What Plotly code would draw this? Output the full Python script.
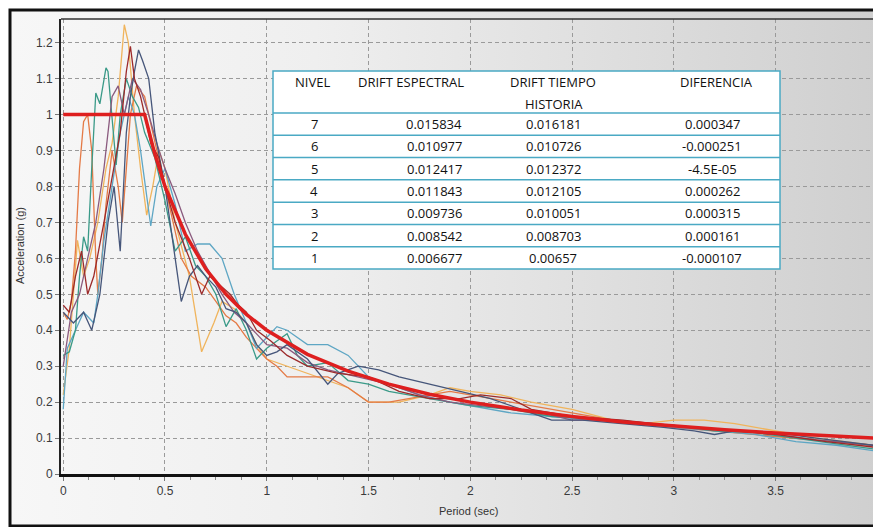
import base64
import plotly.graph_objects as go

# ---------------- data ----------------
t_teal = [0, 0.03, 0.06, 0.08, 0.10, 0.12, 0.14, 0.16, 0.18, 0.21, 0.22, 0.24, 0.26, 0.28, 0.31, 0.34, 0.37, 0.40, 0.45, 0.50, 0.55, 0.60, 0.65, 0.70, 0.75, 0.80, 0.85, 0.90, 0.95, 1.00, 1.05, 1.10, 1.15, 1.20, 1.30, 1.40, 1.50, 1.60, 1.80, 2.00, 2.20, 2.40, 2.60, 2.80, 3.00, 3.20, 3.40, 3.60, 3.80, 3.98]
s_teal = [0.33, 0.34, 0.40, 0.55, 0.66, 0.62, 0.85, 1.06, 1.03, 1.13, 1.12, 0.98, 0.86, 1.00, 1.10, 1.05, 1.02, 0.95, 0.88, 0.76, 0.62, 0.66, 0.58, 0.55, 0.50, 0.41, 0.46, 0.40, 0.32, 0.35, 0.37, 0.39, 0.33, 0.30, 0.31, 0.26, 0.25, 0.23, 0.21, 0.19, 0.18, 0.16, 0.155, 0.14, 0.135, 0.12, 0.115, 0.10, 0.085, 0.07]

t_orange = [0, 0.02, 0.04, 0.06, 0.08, 0.10, 0.12, 0.14, 0.16, 0.17, 0.19, 0.21, 0.24, 0.27, 0.29, 0.31, 0.33, 0.36, 0.40, 0.44, 0.48, 0.53, 0.58, 0.63, 0.70, 0.75, 0.80, 0.85, 0.90, 0.95, 1.00, 1.05, 1.10, 1.20, 1.30, 1.40, 1.50, 1.60, 1.70, 1.80, 1.90, 2.00, 2.20, 2.40, 2.60, 2.80, 3.00, 3.20, 3.40, 3.60, 3.80, 3.98]
s_orange = [0.45, 0.43, 0.48, 0.62, 0.85, 0.98, 1.00, 0.90, 0.60, 0.50, 0.60, 0.75, 0.90, 0.80, 0.70, 0.85, 1.00, 1.08, 1.05, 0.95, 0.85, 0.72, 0.60, 0.55, 0.52, 0.48, 0.44, 0.42, 0.38, 0.35, 0.32, 0.30, 0.27, 0.27, 0.27, 0.24, 0.20, 0.20, 0.21, 0.22, 0.23, 0.22, 0.20, 0.18, 0.16, 0.14, 0.13, 0.12, 0.11, 0.10, 0.09, 0.08]

t_navy = [0, 0.05, 0.10, 0.14, 0.18, 0.22, 0.25, 0.28, 0.31, 0.33, 0.35, 0.37, 0.39, 0.42, 0.45, 0.50, 0.55, 0.58, 0.62, 0.66, 0.70, 0.75, 0.80, 0.85, 0.90, 0.95, 1.00, 1.05, 1.10, 1.20, 1.30, 1.35, 1.45, 1.55, 1.65, 1.80, 1.95, 2.10, 2.25, 2.40, 2.55, 2.75, 2.95, 3.10, 3.20, 3.30, 3.50, 3.70, 3.98]
s_navy = [0.45, 0.42, 0.45, 0.40, 0.50, 0.70, 0.80, 0.62, 0.95, 1.05, 1.12, 1.18, 1.15, 1.10, 0.95, 0.80, 0.60, 0.48, 0.55, 0.58, 0.55, 0.52, 0.46, 0.45, 0.42, 0.36, 0.33, 0.34, 0.36, 0.32, 0.25, 0.28, 0.30, 0.29, 0.27, 0.25, 0.23, 0.21, 0.18, 0.15, 0.15, 0.14, 0.13, 0.12, 0.11, 0.12, 0.115, 0.10, 0.08]

t_maroon = [0, 0.03, 0.06, 0.09, 0.12, 0.15, 0.20, 0.25, 0.28, 0.31, 0.33, 0.35, 0.38, 0.40, 0.43, 0.47, 0.50, 0.55, 0.62, 0.68, 0.72, 0.78, 0.82, 0.86, 0.90, 0.95, 1.02, 1.10, 1.20, 1.35, 1.50, 1.65, 1.80, 1.95, 2.05, 2.20, 2.30, 2.50, 2.75, 2.90, 3.10, 3.30, 3.50, 3.75, 3.98]
s_maroon = [0.47, 0.45, 0.55, 0.62, 0.50, 0.55, 0.70, 0.85, 0.95, 1.12, 1.19, 1.10, 1.05, 1.00, 0.92, 0.88, 0.80, 0.70, 0.60, 0.50, 0.55, 0.52, 0.50, 0.47, 0.45, 0.40, 0.37, 0.33, 0.30, 0.28, 0.27, 0.23, 0.21, 0.21, 0.22, 0.21, 0.18, 0.16, 0.15, 0.14, 0.13, 0.12, 0.11, 0.09, 0.075]

t_gold = [0, 0.03, 0.05, 0.07, 0.10, 0.13, 0.17, 0.21, 0.24, 0.27, 0.30, 0.32, 0.35, 0.38, 0.41, 0.44, 0.47, 0.50, 0.55, 0.62, 0.68, 0.74, 0.78, 0.84, 0.90, 0.95, 1.00, 1.10, 1.20, 1.30, 1.40, 1.50, 1.65, 1.80, 1.90, 2.00, 2.15, 2.30, 2.50, 2.70, 2.85, 3.00, 3.15, 3.30, 3.50, 3.70, 3.98]
s_gold = [0.22, 0.35, 0.50, 0.65, 0.55, 0.60, 0.70, 0.85, 0.92, 1.05, 1.25, 1.20, 1.00, 0.85, 0.72, 0.80, 0.90, 0.85, 0.70, 0.55, 0.34, 0.42, 0.48, 0.46, 0.42, 0.36, 0.32, 0.30, 0.28, 0.26, 0.24, 0.20, 0.20, 0.22, 0.24, 0.23, 0.22, 0.20, 0.18, 0.15, 0.14, 0.15, 0.15, 0.14, 0.12, 0.10, 0.08]

t_blue = [0, 0.02, 0.06, 0.10, 0.15, 0.17, 0.20, 0.24, 0.28, 0.32, 0.35, 0.38, 0.43, 0.46, 0.50, 0.55, 0.60, 0.66, 0.72, 0.78, 0.84, 0.90, 0.95, 1.00, 1.05, 1.10, 1.20, 1.30, 1.40, 1.50, 1.60, 1.75, 1.90, 2.00, 2.20, 2.40, 2.60, 2.80, 3.00, 3.20, 3.40, 3.60, 3.80, 3.98]
s_blue = [0.18, 0.35, 0.40, 0.45, 0.42, 0.50, 0.65, 0.80, 0.95, 1.05, 1.00, 0.90, 0.69, 0.80, 0.85, 0.75, 0.62, 0.64, 0.64, 0.60, 0.50, 0.42, 0.35, 0.38, 0.41, 0.40, 0.36, 0.36, 0.33, 0.27, 0.25, 0.22, 0.20, 0.19, 0.17, 0.16, 0.15, 0.14, 0.13, 0.12, 0.11, 0.09, 0.08, 0.065]

t_purple = [0, 0.04, 0.08, 0.12, 0.16, 0.20, 0.24, 0.27, 0.30, 0.34, 0.38, 0.42, 0.46, 0.50, 0.55, 0.60, 0.66, 0.72, 0.78, 0.84, 0.90, 0.95, 1.00, 1.10, 1.20, 1.30, 1.45, 1.60, 1.75, 1.90, 2.05, 2.20, 2.35, 2.50, 2.70, 2.90, 3.10, 3.30, 3.50, 3.70, 3.98]
s_purple = [0.30, 0.45, 0.50, 0.60, 0.70, 0.85, 1.05, 1.08, 1.00, 1.10, 1.07, 1.00, 0.92, 0.85, 0.78, 0.70, 0.62, 0.56, 0.50, 0.45, 0.42, 0.39, 0.36, 0.35, 0.31, 0.29, 0.27, 0.25, 0.22, 0.20, 0.19, 0.18, 0.17, 0.15, 0.15, 0.14, 0.13, 0.12, 0.11, 0.095, 0.08]

t_design = [0, 0.40, 0.45, 0.50, 0.60, 0.70, 0.80, 0.90, 1.00, 1.20, 1.40, 1.60, 1.80, 2.00, 2.25, 2.50, 2.75, 3.00, 3.25, 3.50, 3.75, 3.98]
s_design = [1.00, 1.00, 0.89, 0.80, 0.667, 0.571, 0.50, 0.444, 0.40, 0.333, 0.286, 0.25, 0.222, 0.20, 0.178, 0.16, 0.145, 0.133, 0.123, 0.114, 0.107, 0.10]

# table
nivel = ["7", "6", "5", "4", "3", "2", "1"]
drift_espectral = ["0.015834", "0.010977", "0.012417", "0.011843", "0.009736", "0.008542", "0.006677"]
drift_tiempo = ["0.016181", "0.010726", "0.012372", "0.012105", "0.010051", "0.008703", "0.00657"]
diferencia = ["0.000347", "-0.000251", "-4.5E-05", "0.000262", "0.000315", "0.000161", "-0.000107"]

# ---------------- figure ----------------
W, H = 873, 527
ML, MR, MT, MB = 61, 0, 19, 53
PW, PH = W - ML - MR, H - MT - MB


def xp(px):
    return (px - ML) / PW


def yp(py):
    return (H - MB - py) / PH


fig = go.Figure()

series = [
    (t_gold, s_gold, "#f0b45c"),
    (t_orange, s_orange, "#e47a46"),
    (t_blue, s_blue, "#5ea6c4"),
    (t_teal, s_teal, "#3a9a88"),
    (t_purple, s_purple, "#8a5a7e"),
    (t_navy, s_navy, "#46567a"),
    (t_maroon, s_maroon, "#9c2a2a"),
]
for tx, sy, col in series:
    fig.add_trace(go.Scatter(x=tx, y=sy, mode="lines", line=dict(color=col, width=1.3),
                             hoverinfo="skip", showlegend=False))

fig.add_trace(go.Scatter(x=t_design, y=s_design, mode="lines",
                         line=dict(color="#de1f1f", width=3.5), showlegend=False))

svg = ("<svg xmlns='http://www.w3.org/2000/svg' width='100' height='100' viewBox='0 0 100 100' "
       "preserveAspectRatio='none'><defs><linearGradient id='g' x1='0' y1='0' x2='1' y2='0'>"
       "<stop offset='0' stop-color='#f7f7f7'/><stop offset='0.35' stop-color='#efefef'/>"
       "<stop offset='1' stop-color='#cfcfcf'/></linearGradient></defs>"
       "<rect width='100' height='100' fill='url(#g)'/></svg>")
src = "data:image/svg+xml;base64," + base64.b64encode(svg.encode()).decode()

fx0, fy0, fx1, fy1 = 10, 10, 882, 526
fig.add_layout_image(dict(source=src, xref="paper", yref="paper", x=xp(fx0), y=yp(fy0),
                          sizex=xp(fx1) - xp(fx0), sizey=yp(fy0) - yp(fy1),
                          sizing="stretch", layer="below", xanchor="left", yanchor="top"))

shapes = []
# outer frame
shapes.append(dict(type="rect", xref="paper", yref="paper", x0=xp(fx0), x1=xp(fx1),
                   y0=yp(fy1), y1=yp(fy0), line=dict(color="#111", width=3), layer="above"))
# top border of plot area
shapes.append(dict(type="line", xref="paper", yref="paper", x0=0, x1=1, y0=1, y1=1,
                   line=dict(color="#333", width=1.5), layer="above"))

# table
tl, tr, tt, tb = 273, 780, 71, 269
teal = "#4aa9c4"
shapes.append(dict(type="rect", xref="paper", yref="paper", x0=xp(tl), x1=xp(tr),
                   y0=yp(tb), y1=yp(tt), fillcolor="white", line=dict(color=teal, width=1.5),
                   layer="above"))
hdr_bottom = 113
row_h = (tb - hdr_bottom) / len(nivel)
for i in range(len(nivel)):
    yline = hdr_bottom + i * row_h
    shapes.append(dict(type="line", xref="paper", yref="paper", x0=xp(tl), x1=xp(tr),
                       y0=yp(yline), y1=yp(yline), line=dict(color=teal, width=1.5),
                       layer="above"))

annotations = []
tfont = dict(family="Open Sans, Noto Sans, sans-serif", size=13, color="#111111")


def txt(s, px, py, xa="center"):
    annotations.append(dict(text=s, x=xp(px), y=yp(py), xref="paper", yref="paper",
                            xanchor=xa, yanchor="middle", showarrow=False, font=tfont))


txt("NIVEL", 312, 82)
txt("DRIFT ESPECTRAL", 411, 82)
txt("DRIFT TIEMPO", 553, 82)
txt("HISTORIA", 554, 104)
txt("DIFERENCIA", 716, 82)
for i in range(len(nivel)):
    yc = hdr_bottom + (i + 0.5) * row_h
    txt(nivel[i], 314, yc)
    txt(drift_espectral[i], 464, yc, "right")
    txt(drift_tiempo[i], 553, yc)
    txt(diferencia[i], 712, yc)

afont = dict(family="Liberation Sans, Arial, sans-serif", size=11, color="#333")
annotations.append(dict(text="Period (sec)", x=xp(468), y=yp(511), xref="paper", yref="paper",
                        xanchor="center", yanchor="middle", showarrow=False, font=afont))
annotations.append(dict(text="Acceleration (g)", x=xp(20), y=yp(246), xref="paper",
                        yref="paper", xanchor="center", yanchor="middle", showarrow=False,
                        textangle=-90, font=afont))

tickfont = dict(family="Liberation Sans, Arial, sans-serif", size=12, color="#3a3a3a")
grid = dict(showgrid=True, gridcolor="#9a9a9a", gridwidth=1, griddash="4px,3px",
            zeroline=False)

fig.update_layout(
    width=W, height=H,
    margin=dict(l=ML, r=MR, t=MT, b=MB),
    paper_bgcolor="white",
    plot_bgcolor="rgba(0,0,0,0)",
    showlegend=False,
    shapes=shapes,
    annotations=annotations,
    xaxis=dict(range=[-0.011, 3.979], tick0=0, dtick=0.5, ticks="outside", ticklen=4,
               tickcolor="#777", tickfont=tickfont, showline=True, linecolor="#111",
               linewidth=3,
               minor=dict(dtick=0.125, tick0=0, ticks="outside", ticklen=3,
                          tickcolor="#888", showgrid=False),
               **grid),
    yaxis=dict(range=[0, 1.266], tick0=0, dtick=0.1, ticks="outside", ticklen=4,
               tickcolor="#777", tickfont=tickfont, showline=True, linecolor="#222",
               linewidth=2, **grid),
)

fig.write_html("out.html", config={"displayModeBar": False},
               post_script="document.body.style.margin='0';document.body.style.overflow='hidden';")
